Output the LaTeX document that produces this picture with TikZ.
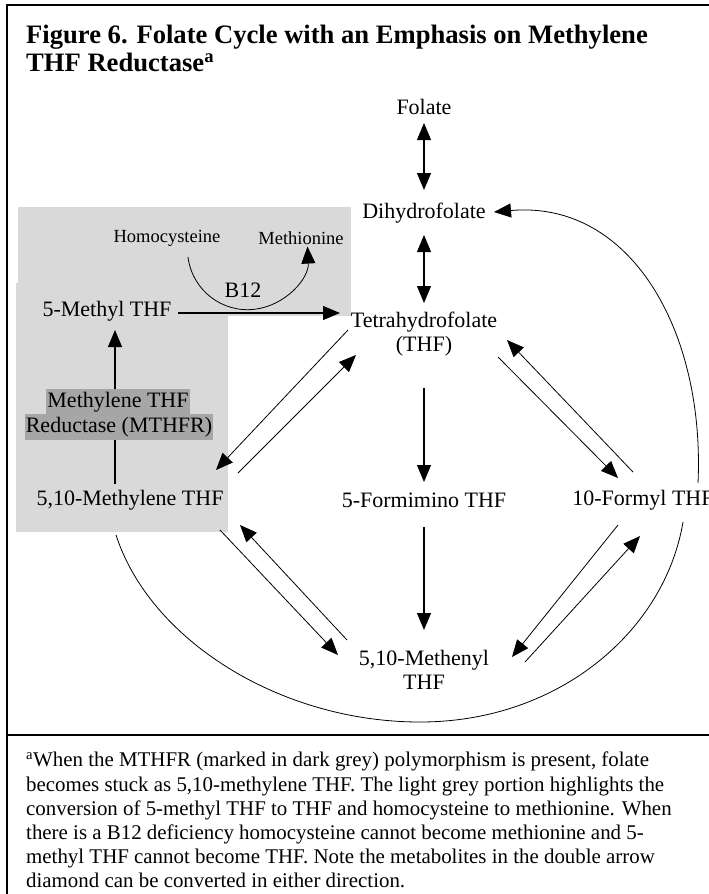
\documentclass[tikz,border=0pt]{standalone}
\usepackage{fontspec}
\setmainfont{Liberation Serif}
\usetikzlibrary{arrows.meta,calc}
\definecolor{lightgrey}{HTML}{D9D9D9}
\definecolor{darkgrey}{HTML}{A6A6A6}
\begin{document}
\begin{tikzpicture}[x=1pt,y=-1pt,
  met/.style={font=\fontsize{22}{24}\selectfont, inner sep=0pt, align=center},
  smalltxt/.style={font=\fontsize{18.5}{21}\selectfont, inner sep=0pt},
  hl/.style={met, fill=darkgrey, inner xsep=1pt, minimum height=26pt},
  arr/.style={-{Triangle[length=17pt,width=14pt]}, line width=1.1pt},
  darr/.style={{Triangle[length=17pt,width=14pt]}-{Triangle[length=17pt,width=14pt]}, line width=1.1pt},
  thinarr/.style={-{Triangle[length=17pt,width=14pt]}, line width=0.8pt},
  curve/.style={line width=0.8pt}]
\useasboundingbox (0,0) rectangle (709,894);
\fill[white] (0,0) rectangle (709,894);
% grey background regions
\fill[lightgrey] (18,207) rectangle (351,316);
\fill[lightgrey] (16,283) rectangle (228,532);
% frame
\draw[line width=1.5pt] (7,894) -- (7,5) -- (709,5);
\draw[line width=1.2pt] (7,735) -- (709,735);
% title
\node[anchor=north west, align=left, inner sep=0pt,
      font=\fontsize{26.6}{27.5}\selectfont\bfseries] (title) at (26,25)
  {Figure 6. Folate Cycle with an Emphasis on Methylene\\THF Reductase\textsuperscript{a}};
% metabolites
\node[met] (fol) at (424,107) {Folate};
\node[met] (dhf) at (424,213) {Dihydrofolate};
\node[met] (thf) at (424,334) {Tetrahydrofolate\\(THF)};
\node[smalltxt] (hcy) at (167,238) {Homocysteine};
\node[smalltxt] (mtn) at (301,238) {Methionine};
\node[met] (b12) at (243,290) {B12};
\node[met] (mthf) at (107,311) {5-Methyl THF};
\node[met] (mlthf) at (130,500) {5,10-Methylene THF};
\node[met] (fthf) at (424,500) {5-Formimino THF};
\node[met] (fothf) at (643,500) {10-Formyl THF};
\node[met] (mnthf) at (424,670) {5,10-Methenyl\\THF};
% vertical arrows
\draw[darr] ($(fol)+(0,16)$) -- ($(dhf)+(0,-23)$);
\draw[darr] ($(dhf)+(0,22)$) -- ($(thf)+(0,-31)$);
\draw[arr] ($(thf)+(0,54)$) -- ($(fthf)+(0,-18)$);
\draw[arr] ($(fthf)+(0,27)$) -- ($(mnthf)+(0,-40)$);
% 5-Methyl THF -> THF
\draw[arr] ($(mthf)+(71,2)$) -- ($(thf)+(-84,-21)$);
% homocysteine -> methionine
\draw[thinarr] ($(hcy)+(21,19)$) arc[start angle=173, end angle=-3, radius=60];
% MTHFR
\draw[arr] ($(mlthf)+(-15,-16)$) -- ($(mthf)+(8,19)$);
\node[hl] (mt1) at (118,402) {Methylene THF};
\node[hl] (mt2) at (119,427) {Reductase (MTHFR)};
% diamond arrows
\draw[thinarr] ($(thf)+(-76,-4)$) -- ($(mlthf)+(86,-30)$);
\draw[thinarr] ($(mlthf)+(108,-27)$) -- ($(thf)+(-68,21)$);
\draw[thinarr] ($(fothf)+(-10,-28)$) -- ($(thf)+(83,6)$);
\draw[thinarr] ($(thf)+(74,23)$) -- ($(fothf)+(-25,-22)$);
\draw[thinarr] ($(mlthf)+(90,30)$) -- ($(mnthf)+(-86,-15)$);
\draw[thinarr] ($(mnthf)+(-77,-30)$) -- ($(mlthf)+(110,25)$);
\draw[thinarr] ($(fothf)+(-25,25)$) -- ($(mnthf)+(88,-13)$);
\draw[thinarr] ($(mnthf)+(101,-8)$) -- ($(fothf)+(-3,36)$);
% long curves
\draw[curve, -{Triangle[length=17pt,width=14pt]}] ($(fothf)+(55,-17)$)
  .. controls (705,330) and (630,200) .. ($(dhf)+(70,-1)$);
\draw[curve] ($(mlthf)+(-14,35)$) .. controls (150,640) and (280,722) .. (420,722)
  coordinate (bot) .. controls (560,722) and (665,630) .. ($(fothf)+(40,22)$);
% footnote
\node[anchor=north west, align=left, inner sep=0pt,
      font=\fontsize{20.9}{24.2}\selectfont] (note) at (26,752)
  {\textsuperscript{a}When the MTHFR (marked in dark grey) polymorphism is present, folate\\
   becomes stuck as 5,10-methylene THF. The light grey portion highlights the\\
   conversion of 5-methyl THF to THF and homocysteine to methionine. When\\
   there is a B12 deficiency homocysteine cannot become methionine and 5-\\
   methyl THF cannot become THF. Note the metabolites in the double arrow\\
   diamond can be converted in either direction.};
\end{tikzpicture}
\end{document}
